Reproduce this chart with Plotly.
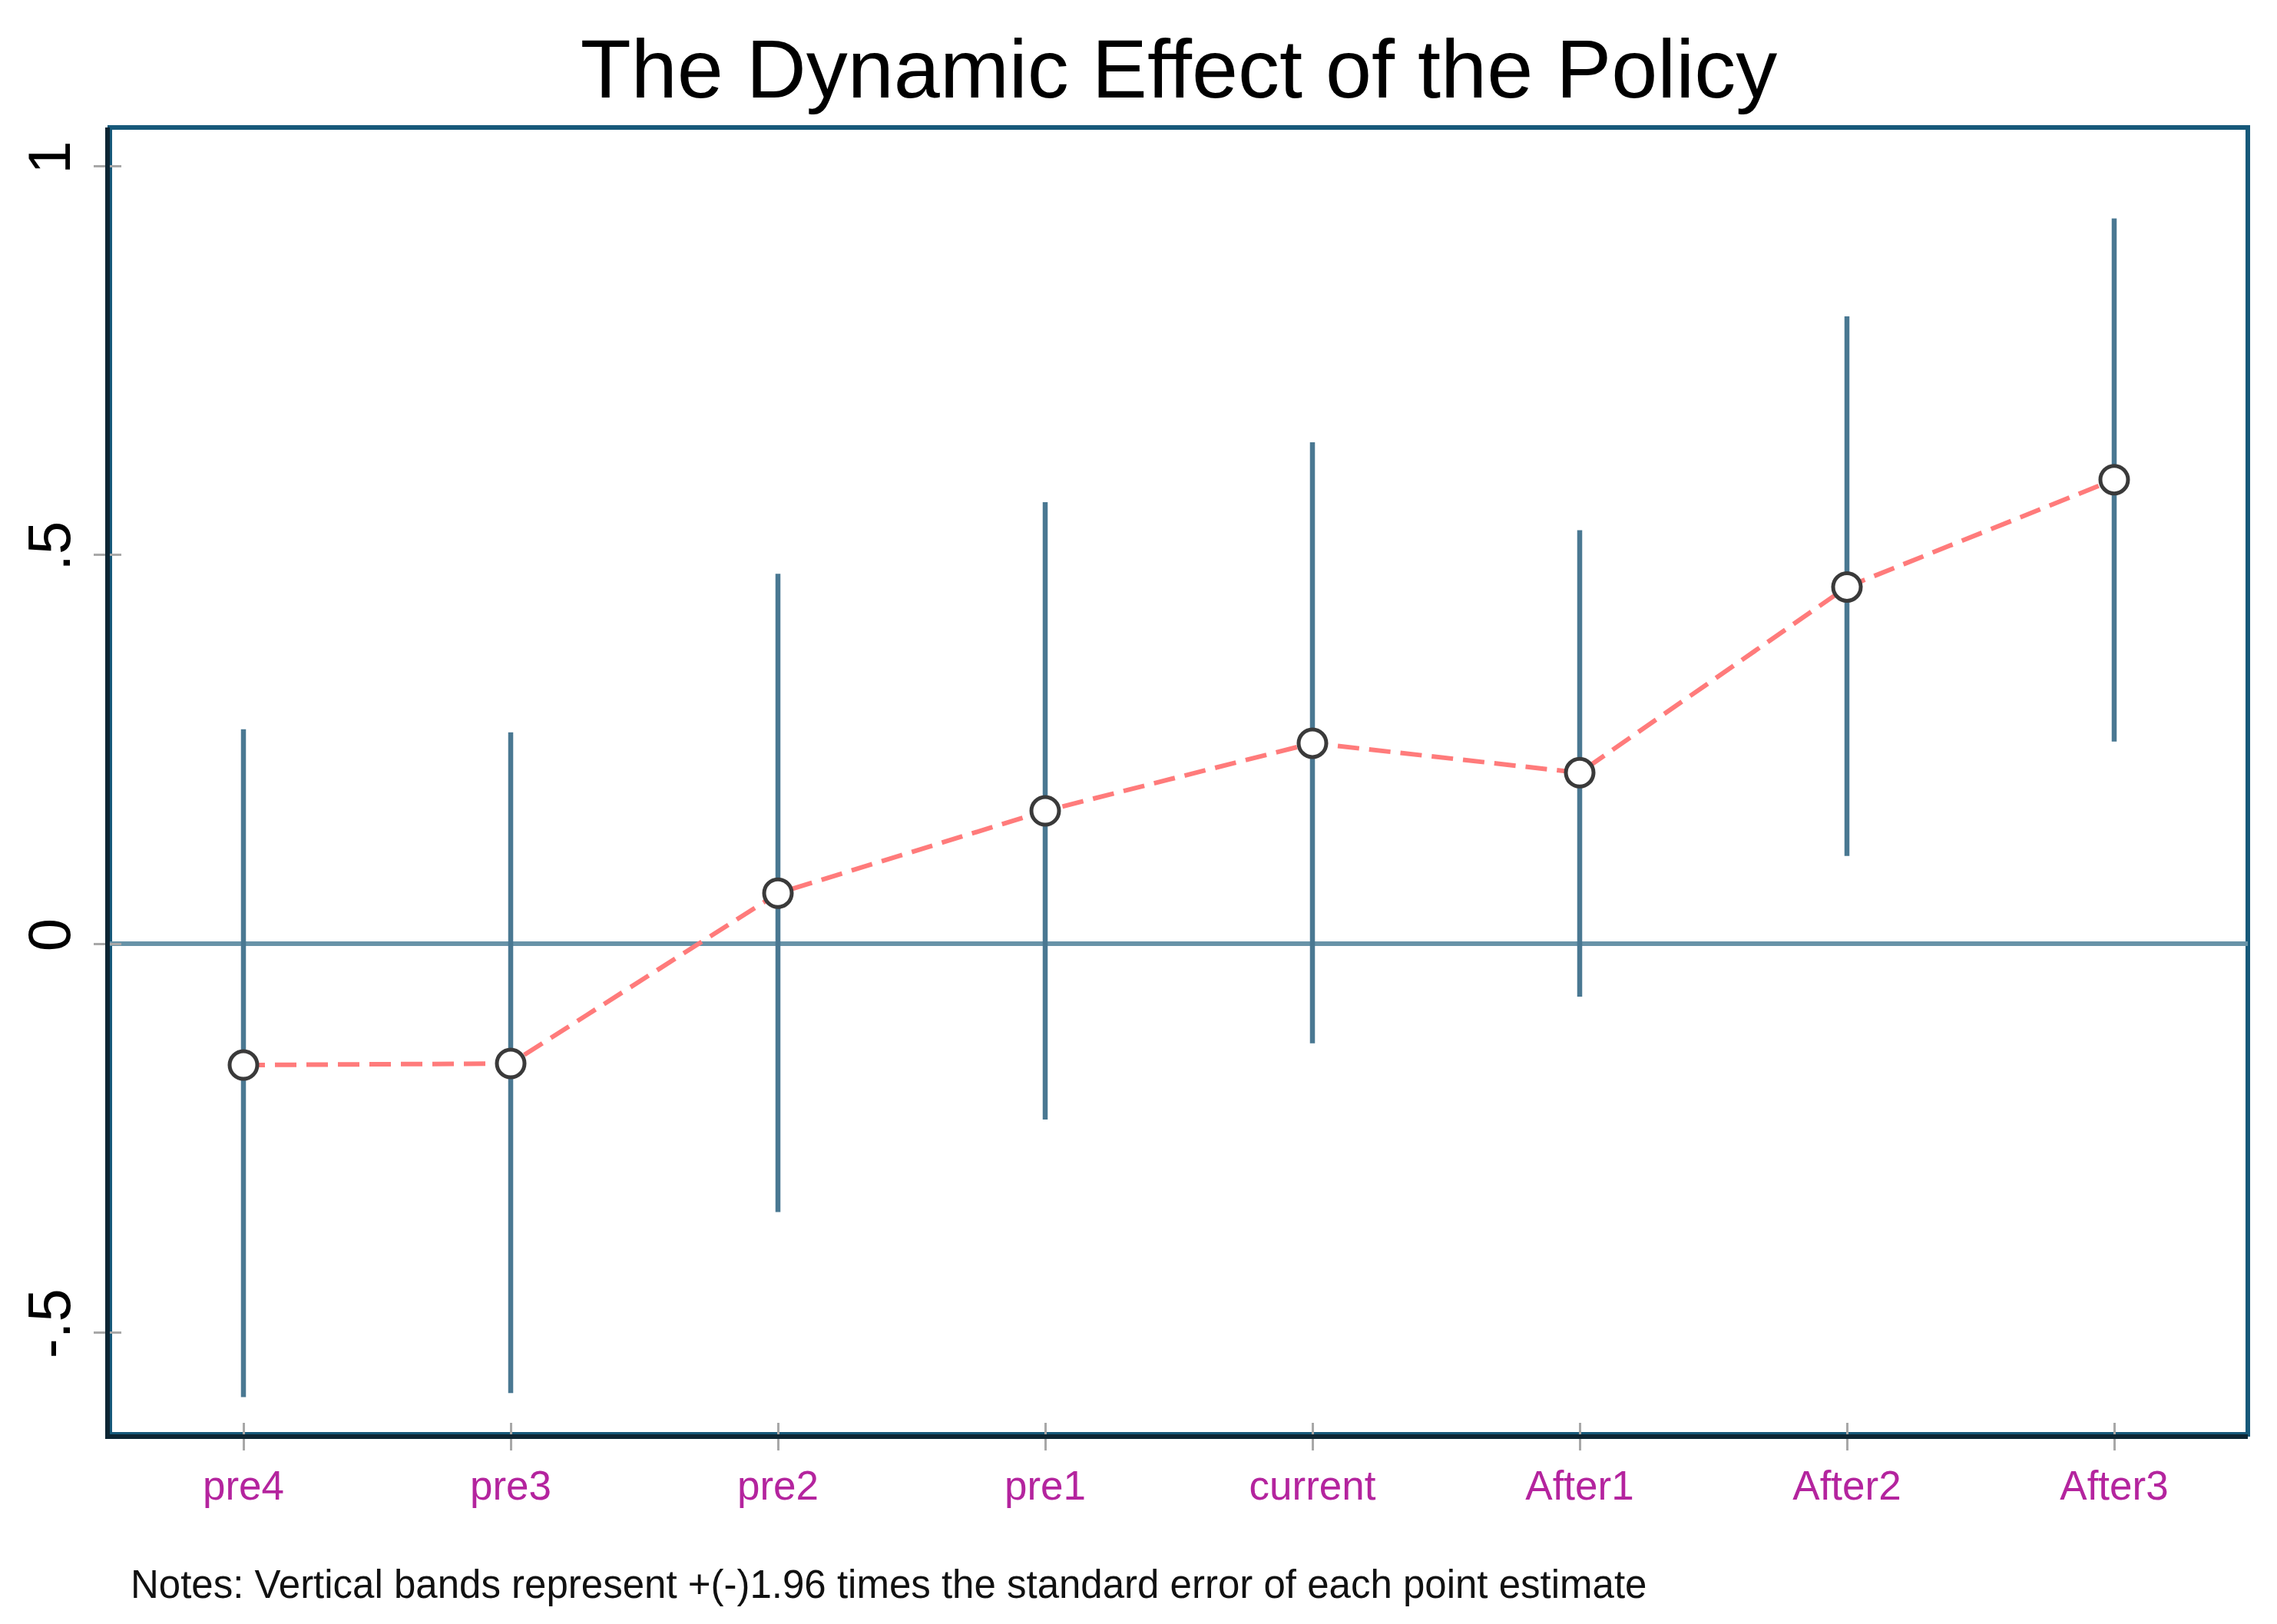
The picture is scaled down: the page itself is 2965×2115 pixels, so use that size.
import plotly.graph_objects as go

categories = ["pre4", "pre3", "pre2", "pre1", "current", "After1", "After2", "After3"]
coef = [-0.156, -0.154, 0.065, 0.171, 0.258, 0.220, 0.459, 0.597]
ci_hi = [0.276, 0.272, 0.476, 0.568, 0.645, 0.532, 0.807, 0.933]
ci_lo = [-0.583, -0.578, -0.345, -0.226, -0.128, -0.068, 0.113, 0.260]
ytick_vals = [-0.5, 0, 0.5, 1]
ytick_text = ["-.5", "0", ".5", "1"]

title_text = "The Dynamic Effect of the Policy"
note_text = "Notes: Vertical bands represent +(-)1.96 times the standard error of each point estimate"

FONT = "Liberation Sans, Arial, sans-serif"
xs = list(range(len(categories)))
XR = [-0.5, 7.5]
YR = [-0.631, 1.05]

fig = go.Figure()

# confidence bands
fig.add_trace(go.Scatter(
    x=xs, y=coef, mode="markers",
    marker=dict(size=1, color="rgba(0,0,0,0)"),
    error_y=dict(type="data", symmetric=False,
                 array=[h - c for h, c in zip(ci_hi, coef)],
                 arrayminus=[c - l for c, l in zip(coef, ci_lo)],
                 width=0, thickness=6.5, color="#4A7892"),
    hoverinfo="skip", showlegend=False,
))

# dashed connecting line
fig.add_trace(go.Scatter(
    x=xs, y=coef, mode="lines",
    line=dict(color="#FF7B7B", width=6, dash="28px,13px"),
    showlegend=False,
))

# point estimates
fig.add_trace(go.Scatter(
    x=xs, y=coef, mode="markers",
    marker=dict(symbol="circle", size=36, color="white",
                line=dict(color="#3A3A3A", width=5)),
    showlegend=False,
))

# dummy trace on overlay axes (for inner tick halves)
fig.add_trace(go.Scatter(x=[None], y=[None], xaxis="x2", yaxis="y2",
                         mode="markers", showlegend=False, hoverinfo="skip"))

# outer frame (top/right teal)
fig.add_shape(type="rect", xref="paper", yref="paper", x0=0, x1=1, y0=0, y1=1,
              line=dict(color="#17597A", width=6), layer="below")

tickstyle = dict(ticklen=15, tickwidth=3, tickcolor="#A8A8A8")

fig.update_layout(
    width=2965, height=2115,
    margin=dict(l=143, r=38, t=166, b=247),
    paper_bgcolor="white", plot_bgcolor="white",
    title=dict(text=title_text, x=0.5, xref="paper", xanchor="center",
               y=1 - 89 / 2115, yanchor="middle",
               font=dict(family=FONT, size=108, color="black")),
    xaxis=dict(range=XR, tickvals=xs, ticktext=categories,
               showgrid=False, zeroline=False,
               showline=True, linecolor="#0D2533", linewidth=6,
               ticks="outside", **tickstyle,
               tickfont=dict(family=FONT, size=53, color="#B4249E")),
    yaxis=dict(range=YR, tickvals=ytick_vals, ticktext=ytick_text,
               tickangle=-90, showgrid=False,
               zeroline=True, zerolinecolor="#6893A8", zerolinewidth=6,
               showline=True, linecolor="#0D2533", linewidth=6,
               ticks="outside", **tickstyle,
               tickfont=dict(family=FONT, size=78, color="black")),
    xaxis2=dict(range=XR, tickvals=xs, overlaying="x", side="bottom", anchor="y2",
                showticklabels=False, showgrid=False, zeroline=False, showline=False,
                ticks="inside", **tickstyle),
    yaxis2=dict(range=YR, tickvals=ytick_vals, overlaying="y", side="left", anchor="x2",
                showticklabels=False, showgrid=False, zeroline=False, showline=False,
                ticks="inside", **tickstyle),
    annotations=[dict(text=note_text, xref="paper", yref="paper",
                      x=(168 - 143) / 2784, y=(1868 - 2063) / 1702,
                      xanchor="left", yanchor="middle", showarrow=False,
                      font=dict(family=FONT, size=51, color="#111111"))],
)

fig.write_html("out.html",
               config={"displayModeBar": False},
               post_script="document.body.style.margin='0';document.body.style.overflow='hidden';")
